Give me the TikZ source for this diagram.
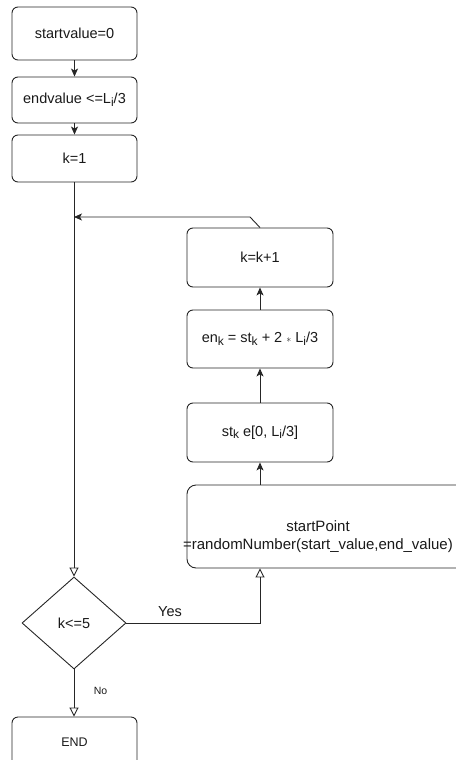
\documentclass[tikz,border=0pt]{standalone}
\usepackage{fontspec}
\setmainfont{Liberation Sans}
\usetikzlibrary{shapes.geometric,arrows.meta,calc}
\newcommand{\sbk}[1]{\raisebox{-0.35ex}{\fontsize{12}{12}\selectfont #1}}
\begin{document}
\begin{tikzpicture}[x=1pt,y=-1pt,
  every node/.style={font=\fontsize{14.5}{17}\selectfont, text=black!90},
  box/.style={draw=black!85, line width=0.9pt, rounded corners=6pt, minimum width=125pt, inner sep=0pt},
  rbox/.style={draw=black!85, line width=0.9pt, rounded corners=6pt, minimum width=146pt, inner sep=0pt},
  arr/.style={draw=black!85, line width=0.9pt, -{Stealth[length=8pt,width=7pt,inset=2pt]}},
  oarr/.style={draw=black!85, line width=0.9pt, -{Triangle[open,length=9pt,width=9pt]}},
  ln/.style={draw=black!85, line width=0.9pt}]
\useasboundingbox (0,0) rectangle (455,760);
% left column
\node[box, minimum height=53pt] (b1) at (74.5,33.5) {startvalue=0};
\node[box, minimum height=46pt] (b2) at (74.5,100) {endvalue <=L\sbk{i}/3};
\node[box, minimum height=47pt] (b3) at (74.5,158.5) {k=1};
\node[draw=black!85, line width=0.9pt, diamond, inner sep=0pt, minimum width=104pt, minimum height=92pt] (d) at (74,623) {k<=5};
\node[box, minimum height=50pt, font=\fontsize{12.5}{15}\selectfont] (end) at (74.5,742) {END};
% right column
\node[rbox, minimum height=59pt] (kk) at (260,257.5) {k=k+1};
\node[rbox, minimum height=58pt] (en) at (260,339) {en\sbk{k} = st\sbk{k} + 2 {\fontsize{10}{10}\selectfont$*$} L\sbk{i}/3};
\node[rbox, minimum height=59pt] (st) at (260,432.5) {st\sbk{k} e[0, L\sbk{i}/3]};
\node[draw=black!85, line width=0.9pt, rounded corners=9pt, minimum width=290pt, minimum height=83pt, inner sep=0pt] (sp) at (332,526.5) {};
\node[align=center, font=\fontsize{15}{18}\selectfont] (sptext) at (318,537) {startPoint\\=randomNumber(start\_value,end\_value)};
% connectors
\draw[arr] (b1) -- (b2);
\draw[arr] (b2) -- (b3);
\draw[oarr] (b3.south -| d.north) -- (d.north);
\draw[oarr] (d.south) -- (end.north -| d.south) node[pos=0.45, right=16pt, font=\fontsize{10.5}{12}\selectfont] (no) {No};
\coordinate (spin) at (st.south |- sp.south);
\draw[oarr] (d.east) -| (spin);
\node (yes) at (170,612) {Yes};
\draw[arr] (sp.north -| st.south) -- (st.south);
\draw[arr] (st) -- (en);
\draw[arr] (en) -- (kk);
\coordinate (bend) at (250,217);
\coordinate (join) at (d.north |- bend);
\draw[arr] (kk.north) -- (bend) -- (join);
\end{tikzpicture}
\end{document}
